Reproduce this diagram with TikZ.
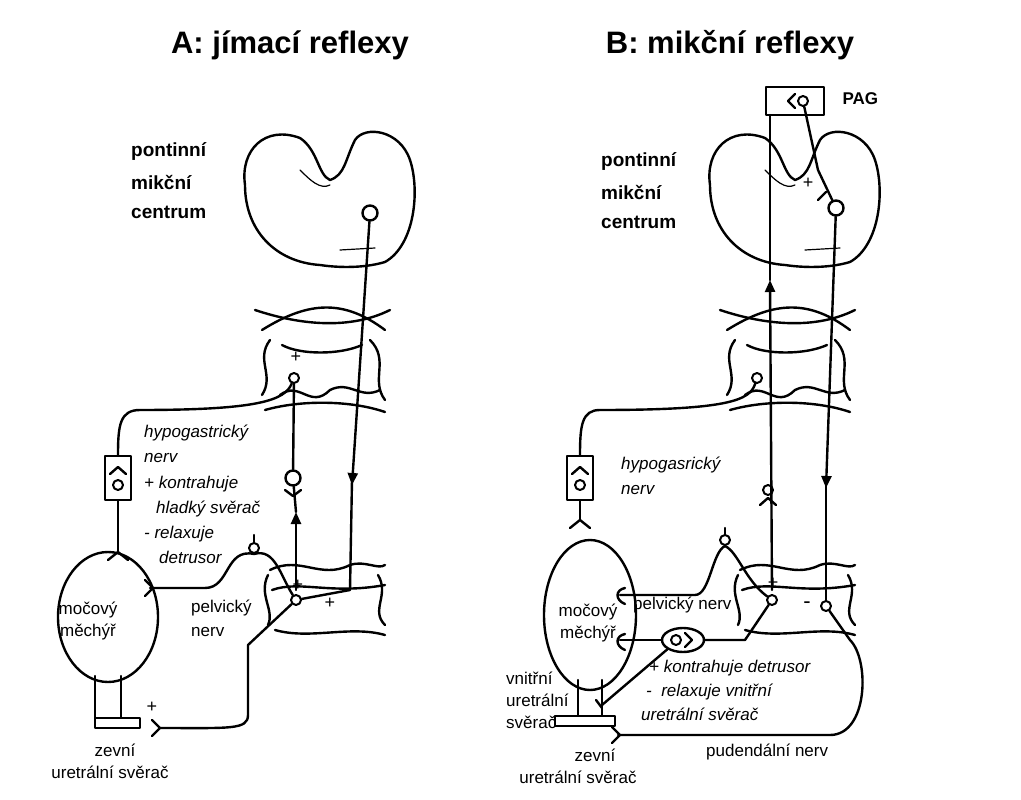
\documentclass[tikz,border=0pt]{standalone}
\usepackage{fontspec}
\setmainfont{Liberation Sans}
\usetikzlibrary{arrows.meta,shapes.geometric}
\begin{document}
\begin{tikzpicture}[x=1pt,y=-1pt,line width=2.4pt,line cap=round,line join=round,
  neu/.style={circle,draw,line width=2.4pt,minimum size=15pt,inner sep=0pt},
  sneu/.style={circle,draw,line width=2pt,minimum size=10pt,inner sep=0pt},
  lab/.style={font=\fontsize{19}{19}\selectfont\bfseries,anchor=west,inner sep=0pt},
  it/.style={font=\fontsize{17}{17}\selectfont\itshape,anchor=west,inner sep=0pt},
  txt/.style={font=\fontsize{17}{17}\selectfont,inner sep=0pt},
  ttl/.style={font=\fontsize{31}{31}\selectfont\bfseries,inner sep=0pt},
  arr/.style={-{Triangle[length=12pt,width=10pt]}}]
\useasboundingbox (0,0) rectangle (1021,800);
\fill[white] (0,0) rectangle (1021,800);
% ===== titles
\node[ttl] (tA) at (290,45) {A: jímací reflexy};
\node[ttl] (tB) at (730,45) {B: mikční reflexy};
\node[lab] (pA1) at (130,152) {pontinní};
\node[lab] (pA2) at (130,182) {mikční};
\node[lab] (pA3) at (130,212) {centrum};
\node[lab] (pB1) at (600,162) {pontinní};
\node[lab] (pB2) at (600,192) {mikční};
\node[lab] (pB3) at (600,222) {centrum};
% ===== brains and upper segments
\foreach \dx in {0,465}{
\begin{scope}[xshift=\dx]
\draw (300,138) .. controls (265,125) and (240,150) .. (245,185)
  .. controls (245,230) and (275,262) .. (320,265)
  .. controls (340,268) and (365,268) .. (385,262)
  .. controls (415,245) and (420,190) .. (410,160)
  .. controls (400,130) and (365,125) .. (355,140)
  .. controls (345,160) and (345,175) .. (330,180)
  .. controls (318,175) and (318,150) .. (300,138);
\draw[line width=1.2pt] (300,170) .. controls (310,180) and (320,190) .. (330,185);
\draw[line width=1.2pt] (340,250) -- (375,248);
\draw (255,310) .. controls (300,325) and (350,330) .. (390,310);
\draw (262,330) .. controls (310,300) and (345,300) .. (385,330);
\draw (270,340) .. controls (255,360) and (275,375) .. (262,395);
\draw (370,340) .. controls (390,360) and (370,380) .. (385,400);
\draw (280,395) .. controls (300,380) and (310,410) .. (330,390) .. controls (350,380) and (360,400) .. (380,390);
\draw (265,410) .. controls (300,400) and (350,400) .. (385,412);
\draw (282,345) .. controls (300,355) and (340,355) .. (362,345);
\end{scope}}
% ===== lower segments
\foreach \dx in {0,470}{
\begin{scope}[xshift=\dx]
\draw (270,570) .. controls (300,555) and (320,580) .. (350,565) .. controls (365,560) and (378,570) .. (385,565);
\draw (272,590) .. controls (300,580) and (330,595) .. (385,585);
\draw (268,575) .. controls (258,595) and (275,610) .. (268,625);
\draw (378,575) .. controls (390,595) and (370,610) .. (385,625);
\draw (275,630) .. controls (310,640) and (350,625) .. (385,635);
\end{scope}}
% ===== A neurons
\node[neu] (ApmcA) at (370,213) {};
\node[sneu] (AupA) at (294,378) {};
\node[neu] (AasA) at (293,478) {};
\node[sneu] (AloA) at (296,600) {};
\node[sneu] (AgA) at (254,548) {};
\node[font=\fontsize{18}{18}\selectfont] (plA1) at (296,357) {+};
\node[font=\fontsize{18}{18}\selectfont] (plA2) at (298,585) {+};
\node[font=\fontsize{18}{18}\selectfont] (plA3) at (330,603) {+};
\node[font=\fontsize{18}{18}\selectfont] (plA4) at (152,707) {+};
\coordinate (AdownEnd) at (350,590);
\draw[arr] (ApmcA) -- (352,485);
\draw (352,480) -- (AdownEnd) -- (AloA);
\draw[arr] (296,590) -- (296,512);
\draw (296,512) -- (AasA);
\draw (AasA) -- (AupA);
\draw (285,490) -- (293,496) -- (301,490);
% hypogastric A
\node[draw,minimum width=26pt,minimum height=44pt,inner sep=0pt] (hbA) at (118,478) {};
\node[sneu] (hnA) at (118,485) {};
\draw (110,474) -- (118,467) -- (126,474);
\draw (AupA) .. controls (285,400) and (260,410) .. (140,410) .. controls (120,410) and (118,425) .. (hbA.north);
\draw (hbA.south) -- (118,552);
\draw (108,560) -- (118,552) -- (128,560);
% bladder A
\node[draw,ellipse,minimum width=100pt,minimum height=130pt] (blA) at (108,617) {};
\draw (95,676) -- (95,718) (121,676) -- (121,718);
\draw[fill=white] (95,718) rectangle (140,728);
\node[txt] (mA1) at (88,610) {močový};
\node[txt] (mA2) at (88,632) {měchýř};
% pelvic A
\draw (150,588) -- (205,588) .. controls (230,588) and (225,548) .. (AgA.south) .. controls (275,548) and (280,575) .. (AloA);
\draw (145,580) -- (153,588) -- (145,596);
\draw (AgA) -- (254,535);
\node[txt,anchor=west] (pnA1) at (190,608) {pelvický};
\node[txt,anchor=west] (pnA2) at (190,632) {nerv};
\draw (AloA) -- (248,645) -- (248,715) .. controls (248,730) and (230,728) .. (160,728);
\draw (152,720) -- (160,728) -- (152,736);
\node[it] (hA1) at (143,433) {hypogastrický};
\node[it] (hA2) at (143,458) {nerv};
\node[it] (hA3) at (143,484) {+ kontrahuje};
\node[it] (hA4) at (155,509) {hladký svěrač};
\node[it] (hA5) at (143,534) {- relaxuje};
\node[it] (hA6) at (158,557) {detrusor};
\node[txt] (zA1) at (115,750) {zevní};
\node[txt] (zA2) at (110,772) {uretrální svěrač};
% ===== B
\node[draw,minimum width=58pt,minimum height=28pt] (pag) at (795,101) {};
\node[font=\fontsize{17}{17}\selectfont\bfseries,anchor=west] (pagl) at (838,99) {PAG};
\node[sneu] (pagn) at (803,101) {};
\draw (795,94) -- (788,101) -- (795,108);
\node[neu] (pmcB) at (836,208) {};
\node[sneu] (upB) at (757,378) {};
\node[sneu] (asB) at (768,490) {};
\node[sneu] (loB1) at (772,600) {};
\node[sneu] (loB2) at (826,606) {};
\node[sneu] (gB) at (725,540) {};
\node[font=\fontsize{18}{18}\selectfont] (plB1) at (808,183) {+};
\node[font=\fontsize{18}{18}\selectfont] (plB2) at (773,583) {+};
\node[font=\fontsize{22}{22}\selectfont] (miB) at (807,605) {-};
\draw (pagn) -- (818,170) -- (pmcB);
\draw (818,200) -- (826,192);
\draw[arr] (772,590) -- (770,280);
\draw (770,280) -- (770,115);
\draw[arr] (pmcB) -- (826,488);
\draw (826,480) -- (loB2);
\draw (760,505) -- (768,498) -- (776,505);
% hypogastric B
\node[draw,minimum width=26pt,minimum height=44pt,inner sep=0pt] (hbB) at (580,478) {};
\node[sneu] (hnB) at (580,485) {};
\draw (572,474) -- (580,467) -- (588,474);
\draw (upB) .. controls (750,400) and (730,410) .. (600,410) .. controls (582,410) and (580,425) .. (hbB.north);
\draw (hbB.south) -- (580,520);
\draw (570,528) -- (580,520) -- (590,528);
\node[it] (hB1) at (620,465) {hypogasrický};
\node[it] (hB2) at (620,490) {nerv};
% bladder B
\node[draw,ellipse,minimum width=92pt,minimum height=150pt] (blB) at (590,615) {};
\draw (578,680) -- (578,718) (602,680) -- (602,718);
\draw[fill=white] (555,716) rectangle (615,726);
\node[txt] (mB1) at (588,612) {močový};
\node[txt] (mB2) at (588,634) {měchýř};
\node[txt,anchor=west] (pnB) at (632,605) {pelvický nerv};
\draw (620,595) -- (695,595) .. controls (710,595) and (712,552) .. (gB.south) .. controls (738,552) and (745,580) .. (loB1);
\draw (gB) -- (725,528);
\draw (625,588) .. controls (615,590) and (615,600) .. (625,604);
\node[draw,ellipse,minimum width=42pt,minimum height=24pt] (ggB) at (683,640) {};
\node[sneu] (ggn) at (676,640) {};
\draw (685,633) -- (692,640) -- (685,647);
\draw (620,640) -- (ggB.west);
\draw (ggB.east) -- (745,640) -- (loB1);
\draw (625,634) .. controls (615,636) and (615,646) .. (625,650);
\draw (ggB.south west) -- (602,705);
\draw (596,700) -- (602,708);
\draw (loB2) -- (850,640) .. controls (870,660) and (868,735) .. (830,735) -- (618,735);
\draw (612,727) -- (620,735) -- (612,743);
\node[it] (kB1) at (648,668) {+ kontrahuje detrusor};
\node[it] (kB2) at (645,692) {- \ relaxuje vnitřní};
\node[it] (kB3) at (640,714) {uretrální svěrač};
\node[txt,anchor=west] (vB1) at (505,678) {vnitřní};
\node[txt,anchor=west] (vB2) at (505,700) {uretrální};
\node[txt,anchor=west] (vB3) at (505,722) {svěrač};
\node[txt] (zB1) at (595,755) {zevní};
\node[txt] (zB2) at (578,777) {uretrální svěrač};
\node[txt,anchor=west] (pud) at (705,752) {pudendální nerv};
\end{tikzpicture}
\end{document}
